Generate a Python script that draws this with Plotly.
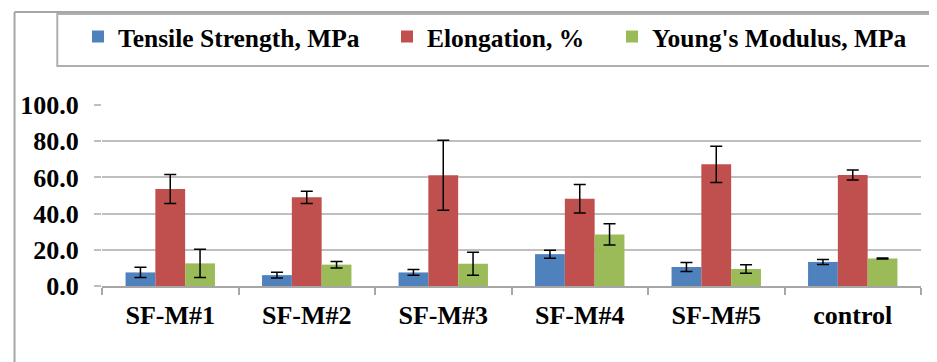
import plotly.graph_objects as go

categories = ["SF-M#1", "SF-M#2", "SF-M#3", "SF-M#4", "SF-M#5", "control"]
tensile = [7.5, 6.0, 7.5, 17.6, 10.5, 13.3]
tensile_err = [2.8, 1.6, 1.6, 2.2, 2.5, 1.4]
elong = [53.6, 49.0, 61.2, 48.2, 67.2, 61.3]
elong_err = [8.0, 3.4, 19.3, 7.9, 10.0, 2.8]
young = [12.5, 11.8, 12.3, 28.5, 9.4, 15.2]
young_err = [7.8, 1.8, 6.4, 5.9, 2.4, 0.3]
yticks = [0, 20, 40, 60, 80, 100]

# page body has an 8px margin; work in window pixels and convert
OFF = 8
WIN_W, WIN_H = 937, 362
W, H = WIN_W - OFF, WIN_H - OFF
PL, PR, PT, PB = 97, 921, 105, 286  # plot area in window pixels
L, T = PL - OFF, PT - OFF
R, B = WIN_W - PR, WIN_H - PB
pw, ph = PR - PL, PB - PT

def px(x):
    return (x - PL) / pw

def py(y):
    return (PB - y) / ph

FONT = "Liberation Serif, Times New Roman, DejaVu Serif, serif"
err_style = dict(type="data", thickness=1.5, width=6, color="#000000")

series = [
    ("Tensile Strength, MPa", tensile, tensile_err, "#4F81BD", "legend", 118),
    ("Elongation, %", elong, elong_err, "#C0504D", "legend2", 427),
    ("Young's Modulus, MPa", young, young_err, "#9BBB59", "legend3", 652),
]

fig = go.Figure()
legends = {}
for name, vals, errs, col, leg, text_x in series:
    fig.add_trace(go.Bar(
        x=categories, y=vals, name=name, marker_color=col,
        marker_line_width=0, legend=leg,
        error_y=dict(array=errs, **err_style),
    ))
    legends[leg] = dict(
        orientation="h", xref="container", yref="container",
        x=(text_x - 40 - OFF) / W, y=1 - (37 - OFF) / H,
        xanchor="left", yanchor="middle",
        font=dict(family=FONT, size=25.5, color="#000000", weight="bold"),
        bgcolor="rgba(0,0,0,0)", borderwidth=0,
        itemclick=False, itemdoubleclick=False,
    )

fig.update_layout(
    width=W, height=H,
    margin=dict(l=L, r=R, t=T, b=B, pad=0),
    paper_bgcolor="white", plot_bgcolor="white",
    barmode="group", bargap=0.345, bargroupgap=0,
    font=dict(family=FONT, color="#000000"),
    showlegend=True,
    **legends,
    xaxis=dict(
        type="category", tickson="boundaries", ticks="outside", ticklen=7,
        tickcolor="#a6a6a6", tickwidth=1.5,
        showline=True, linecolor="#a6a6a6", linewidth=2,
        showgrid=False,
        tickfont=dict(family=FONT, size=26, color="#000000", weight="bold"),
        ticklabelstandoff=5,
    ),
    yaxis=dict(
        range=[0, 100], tickvals=yticks, tickformat=".1f",
        ticks="outside", ticklen=7, tickcolor="#bfbfbf", tickwidth=2,
        showgrid=True, gridcolor="#bfbfbf", gridwidth=2,
        showline=False, zeroline=False,
        tickfont=dict(family=FONT, size=26, color="#000000", weight="bold"),
        ticklabelstandoff=10,
    ),
    shapes=[
        dict(type="rect", xref="paper", yref="paper",
             x0=px(52), x1=px(950), y0=py(66), y1=py(14),
             line=dict(color="#b0b0b0", width=2), fillcolor="rgba(0,0,0,0)"),
        dict(type="line", xref="paper", yref="paper",
             x0=px(9), x1=px(950), y0=py(12), y1=py(12),
             line=dict(color="#a6a6a6", width=2)),
        dict(type="line", xref="paper", yref="paper",
             x0=px(9), x1=px(9), y0=py(12), y1=py(370),
             line=dict(color="#a6a6a6", width=2)),
    ],
)

fig.write_html("out.html")
